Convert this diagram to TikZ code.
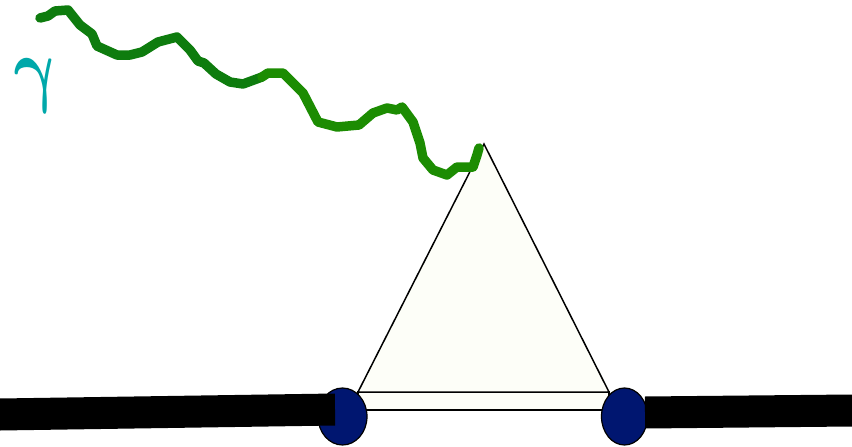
\documentclass[tikz,border=0pt]{standalone}
\usepackage{bm}
\usetikzlibrary{shapes.geometric}
\definecolor{wavea}{RGB}{14,124,14}
\definecolor{waveb}{RGB}{28,140,2}
\definecolor{vtx}{RGB}{0,22,112}
\definecolor{pale}{RGB}{253,254,248}
\definecolor{gam}{RGB}{0,168,170}
\tikzset{
  loopline/.style={draw=black, line width=1.5pt, fill=pale, line join=miter},
  vertexdot/.style={ellipse, draw=black, line width=1.2pt, fill=vtx, inner sep=0pt},
  fermion/.style={black, line width=32pt, line cap=butt},
  photon/.style={line width=9.5pt, line join=round, line cap=round},
}
\begin{document}
\begin{tikzpicture}[x=1pt,y=-1pt]
\useasboundingbox (0,0) rectangle (852,447);
% triangle loop
\coordinate (apex) at (484,144);
\coordinate (bl) at (358,392);
\coordinate (br) at (609,392);
\coordinate (bandbr) at (609,410);
\draw[loopline] (bl) rectangle (bandbr);
\draw[loopline] (apex) -- (bl) -- (br) -- cycle;
% vertices
\node[vertexdot, minimum width=49pt, minimum height=57pt] (v1) at (342.5,416.5) {};
\node[vertexdot, minimum width=46pt, minimum height=57pt] (v2) at (624.5,416.5) {};
% external fermion lines
\coordinate (lin) at (0,414.5);
\coordinate (lend) at (335,409.5);
\coordinate (rstart) at (645,412.5);
\coordinate (rout) at (852,410.5);
\draw[fermion] (lin) -- (lend);
\draw[fermion] (rstart) -- (rout);
% photon
\coordinate (pstart) at (40,18);
\coordinate (pmid) at (262,77);
\coordinate (pend) at (479,148);
\draw[photon, wavea] (pstart) -- (48,16) -- (55,11) -- (68,10) -- (80,25) -- (92,34) -- (97,46)
  -- (117,55) -- (130,55) -- (142,52) -- (158,42) -- (177,37) -- (190,50) -- (198,61)
  -- (204,63) -- (216,74) -- (230,82) -- (243,84) -- (pmid);
\draw[photon, waveb] (pmid) -- (268,73) -- (283,73) -- (303,93) -- (318,122) -- (337,127)
  -- (359,125) -- (373,113) -- (387,108) -- (397,110) -- (402,107) -- (413,122) -- (420,143)
  -- (423,158) -- (433,170) -- (447,175) -- (457,167) -- (473,167) -- (477,155) -- (pend);
% label
\node[text=gam, font=\Huge, inner sep=0pt, xslant=-0.18, xscale=2.6, yscale=3.4] (gamma) at (38,86) {$\bm{\gamma}$};
\end{tikzpicture}
\end{document}
